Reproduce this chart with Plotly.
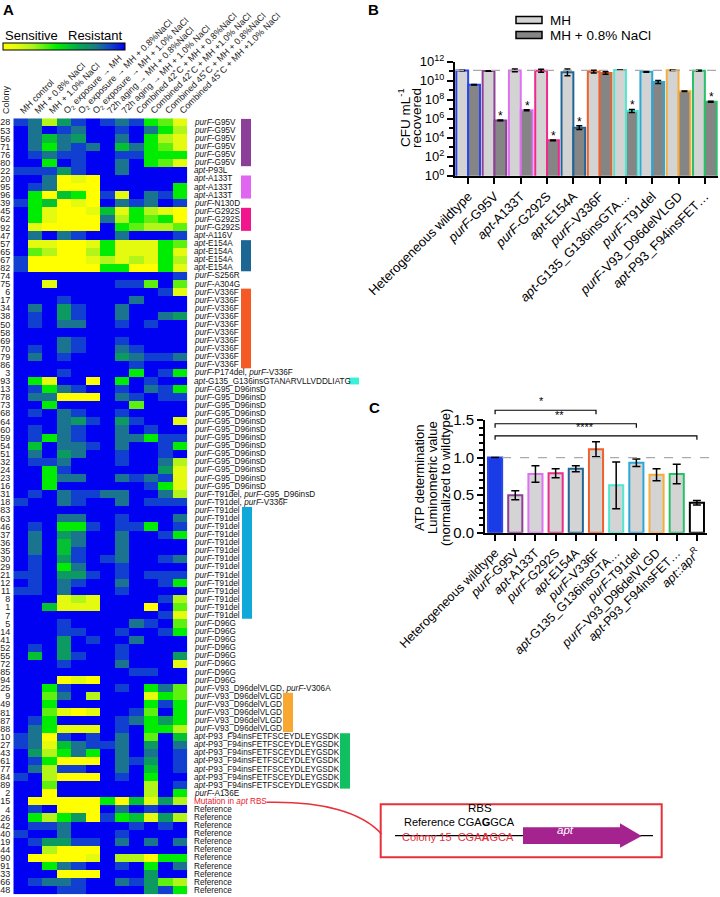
import plotly.graph_objects as go

W, H = 720, 897
def px(x): return x / W
def py(y): return 1 - y / H

FONT = "Liberation Sans, Arial, Helvetica, sans-serif"

# ---------------- Panel A data ----------------
conditions = ["MH control", "MH + 0.8% NaCl", "MH + 1.0% NaCl", "O<sub>2</sub> exposure \u2192 MH",
              "O<sub>2</sub> exposure \u2192 MH + 0.8%NaCl", "O<sub>2</sub> exposure \u2192 MH + 1.0% NaCl",
              "72h aging \u2192 MH + 0.8%NaCl", "72h aging \u2192 MH + 1.0% NaCl",
              "Combined 42\u02daC + MH + 0.8%NaCl", "Combined 42\u02daC + MH +1.0% NaCl",
              "Combined 45\u02daC + MH + 0.8%NaCl", "Combined 45\u02daC + MH +1.0% NaCl"]

colonies = [28, 53, 56, 71, 76, 80, 22, 20, 95, 96, 39, 45, 62, 92, 47, 57, 65, 67, 82, 74, 75,
            6, 17, 34, 38, 50, 58, 69, 70, 79, 86, 3, 93,
            13, 78, 73, 68, 64, 60, 59, 54, 51, 32, 24, 23, 16, 31, 18,
            83, 63, 46, 37, 36, 35, 30, 29, 21, 12, 11, 8, 1, 7,
            5, 14, 41, 52, 55, 72, 85, 94, 25, 9, 49, 81, 87, 88,
            10, 27, 43, 61, 77, 84, 89, 2, 15,
            4, 26, 42, 40, 19, 44, 90, 91, 33, 66, 48]

mutations = (["purF|-G95V"] * 6 + ["apt|-P93L"] + ["apt|-A133T"] * 3 + ["purF|-N130D"] +
             ["purF|-G292S"] * 3 + ["apt|-A116V"] + ["apt|-E154A"] * 4 + ["purF|-S256R", "purF|-A304G"] +
             ["purF|-V336F"] * 10 + ["purF|-P174del, |purF|-V336F", "apt|-G135_G136insGTANARVLLVDDLIATG"] +
             ["purF|-G95_D96insD"] * 13 + ["purF|-T91del, |purF|-G95_D96insD", "purF|-T91del, |purF|-V336F"] +
             ["purF|-T91del"] * 14 + ["purF|-D96G"] * 8 + ["purF|-V93_D96delVLGD, |purF|-V306A"] +
             ["purF|-V93_D96delVLGD"] * 5 + ["apt|-P93_F94insFETFSCEYDLEYGSDK"] * 7 +
             ["purF|-A136E", "RBS", ] + ["|Reference"] * 11)

# 0 = sensitive (yellow) ... 9 = resistant (blue)
heat = [
    [8, 7, 2, 6, 8, 9, 8, 7, 8, 4, 3, 1],
    [9, 7, 9, 8, 7, 9, 9, 8, 9, 7, 4, 2],
    [9, 7, 5, 7, 6, 9, 9, 7, 9, 4, 2, 1],
    [9, 7, 4, 7, 8, 7, 9, 5, 7, 4, 3, 1],
    [9, 8, 7, 8, 8, 9, 9, 8, 8, 4, 4, 4],
    [9, 9, 4, 9, 8, 9, 9, 7, 9, 4, 3, 1],
    [8, 8, 8, 6, 8, 9, 9, 7, 9, 9, 9, 9],
    [9, 9, 7, 0, 1, 0, 9, 9, 9, 9, 9, 9],
    [9, 8, 7, 0, 0, 0, 9, 9, 9, 9, 9, 4],
    [9, 4, 0, 5, 4, 0, 8, 1, 9, 7, 8, 4],
    [8, 4, 5, 0, 1, 0, 9, 7, 8, 7, 9, 8],
    [9, 4, 1, 0, 0, 1, 5, 1, 4, 2, 1, 0],
    [9, 4, 1, 0, 0, 0, 7, 2, 4, 3, 4, 0],
    [9, 1, 0, 0, 0, 0, 9, 4, 3, 2, 2, 3],
    [9, 7, 9, 7, 8, 9, 9, 7, 9, 9, 9, 8],
    [9, 1, 1, 0, 0, 1, 4, 1, 1, 1, 4, 3],
    [9, 3, 2, 0, 0, 2, 4, 1, 1, 1, 4, 1],
    [8, 0, 0, 0, 0, 1, 2, 1, 2, 1, 4, 2],
    [8, 0, 0, 0, 0, 0, 4, 4, 0, 0, 4, 1],
    [9, 9, 9, 9, 9, 9, 9, 9, 9, 9, 9, 8],
    [9, 9, 1, 9, 9, 9, 9, 8, 8, 3, 9, 3],
    [9, 9, 9, 9, 9, 9, 9, 9, 9, 9, 8, 1],
    [9, 9, 9, 8, 9, 9, 9, 9, 7, 9, 9, 9],
    [9, 7, 9, 6, 8, 9, 9, 7, 9, 9, 9, 9],
    [9, 8, 9, 6, 8, 9, 9, 7, 9, 9, 7, 6],
    [9, 8, 9, 7, 7, 9, 9, 8, 9, 8, 9, 9],
    [9, 9, 9, 9, 9, 9, 9, 9, 9, 9, 9, 9],
    [9, 9, 9, 7, 8, 9, 9, 8, 9, 9, 9, 9],
    [9, 8, 9, 7, 8, 9, 9, 7, 8, 9, 9, 9],
    [9, 7, 9, 8, 9, 9, 9, 6, 7, 8, 8, 7],
    [9, 9, 9, 9, 9, 9, 9, 9, 8, 9, 9, 9],
    [9, 9, 9, 8, 9, 9, 9, 9, 4, 9, 8, 4],
    [9, 4, 1, 9, 9, 0, 9, 4, 9, 8, 9, 9],
    [9, 8, 4, 7, 8, 9, 9, 8, 9, 7, 8, 4],
    [9, 7, 7, 0, 0, 0, 9, 7, 8, 9, 8, 8],
    [9, 9, 4, 9, 9, 9, 9, 9, 3, 9, 9, 9],
    [9, 8, 9, 7, 8, 9, 9, 8, 9, 9, 9, 9],
    [9, 9, 9, 7, 6, 8, 9, 6, 8, 9, 9, 1],
    [9, 8, 9, 7, 8, 9, 9, 7, 9, 8, 9, 9],
    [9, 8, 4, 7, 8, 9, 9, 7, 7, 4, 8, 8],
    [9, 5, 9, 7, 7, 8, 9, 7, 9, 9, 8, 4],
    [9, 7, 9, 6, 7, 9, 9, 8, 9, 9, 8, 9],
    [9, 8, 8, 7, 9, 9, 9, 8, 9, 9, 7, 2],
    [9, 9, 4, 8, 9, 9, 9, 9, 9, 9, 6, 1],
    [9, 9, 4, 7, 7, 9, 9, 7, 8, 7, 8, 1],
    [9, 9, 4, 9, 9, 9, 9, 9, 9, 8, 4, 1],
    [9, 8, 9, 7, 8, 8, 7, 7, 9, 9, 7, 2],
    [8, 9, 9, 7, 8, 9, 9, 7, 9, 8, 8, 8],
    [9, 9, 9, 9, 9, 9, 9, 9, 9, 9, 9, 9],
    [9, 9, 9, 7, 7, 9, 9, 8, 9, 9, 9, 7],
    [9, 8, 9, 4, 4, 8, 9, 8, 8, 4, 9, 8],
    [9, 7, 9, 6, 7, 9, 9, 7, 9, 9, 8, 4],
    [9, 7, 9, 5, 7, 9, 9, 7, 9, 9, 9, 9],
    [9, 7, 9, 5, 8, 9, 9, 7, 9, 9, 9, 9],
    [9, 8, 9, 6, 8, 9, 8, 7, 9, 9, 8, 7],
    [9, 8, 9, 4, 7, 9, 9, 8, 9, 9, 9, 9],
    [8, 8, 9, 6, 6, 8, 9, 8, 9, 8, 8, 8],
    [9, 8, 9, 7, 8, 9, 9, 7, 9, 9, 8, 4],
    [8, 8, 9, 7, 9, 9, 9, 8, 9, 9, 9, 9],
    [9, 9, 9, 1, 2, 1, 9, 9, 9, 9, 8, 2],
    [9, 9, 5, 1, 1, 1, 9, 9, 9, 0, 9, 3],
    [9, 9, 9, 9, 9, 9, 9, 9, 9, 9, 8, 1],
    [9, 9, 9, 8, 9, 9, 9, 9, 7, 8, 9, 3],
    [9, 9, 9, 8, 8, 9, 9, 8, 9, 9, 8, 4],
    [9, 9, 9, 6, 9, 8, 9, 9, 7, 9, 9, 9],
    [9, 8, 9, 6, 9, 9, 9, 8, 9, 9, 9, 9],
    [9, 5, 9, 6, 8, 9, 9, 8, 9, 9, 9, 6],
    [9, 9, 9, 8, 9, 9, 9, 7, 9, 9, 9, 1],
    [9, 9, 9, 9, 9, 9, 9, 9, 8, 8, 9, 9],
    [9, 9, 9, 0, 1, 0, 9, 9, 9, 9, 9, 9],
    [9, 9, 4, 8, 9, 9, 9, 8, 9, 4, 7, 3],
    [9, 9, 3, 7, 9, 2, 9, 9, 9, 1, 4, 3],
    [9, 9, 4, 9, 9, 9, 9, 9, 9, 4, 8, 4],
    [9, 9, 3, 1, 0, 1, 9, 9, 8, 3, 9, 4],
    [9, 8, 4, 9, 9, 9, 9, 8, 7, 4, 6, 4],
    [9, 7, 4, 1, 1, 1, 9, 8, 9, 4, 4, 2],
    [8, 7, 0, 8, 9, 8, 9, 7, 9, 3, 9, 5],
    [8, 7, 1, 5, 7, 8, 8, 7, 9, 6, 9, 7],
    [9, 6, 2, 4, 7, 4, 9, 7, 9, 7, 9, 8],
    [9, 8, 4, 0, 0, 0, 9, 7, 8, 6, 9, 8],
    [9, 7, 2, 8, 8, 9, 9, 7, 9, 5, 9, 8],
    [8, 9, 2, 0, 0, 0, 9, 8, 9, 4, 9, 9],
    [9, 9, 3, 9, 9, 9, 9, 9, 9, 2, 9, 8],
    [9, 9, 0, 9, 9, 9, 9, 9, 9, 2, 9, 4],
    [9, 0, 0, 0, 0, 0, 4, 0, 5, 1, 6, 2],
    [9, 8, 9, 0, 0, 0, 9, 7, 9, 8, 9, 9],
    [9, 4, 2, 4, 6, 0, 8, 4, 5, 1, 6, 2],
    [9, 8, 8, 7, 9, 9, 9, 9, 8, 9, 8, 9],
    [8, 9, 9, 7, 9, 9, 9, 8, 9, 9, 9, 9],
    [9, 8, 6, 6, 8, 8, 9, 7, 9, 7, 9, 7],
    [9, 9, 2, 0, 0, 0, 9, 9, 9, 9, 9, 9],
    [9, 0, 0, 0, 0, 1, 9, 2, 2, 0, 4, 4],
    [9, 9, 4, 7, 8, 9, 9, 8, 9, 4, 9, 7],
    [9, 9, 9, 0, 0, 0, 9, 9, 9, 6, 9, 9],
    [9, 8, 7, 7, 8, 9, 9, 7, 8, 6, 3, 2],
    [9, 9, 9, 8, 8, 9, 9, 9, 9, 6, 8, 4],
]

# side group markers: (first row, last row, left px, colour)
groups = [(0, 5, 241, "#8b3f98"), (7, 9, 241, "#e066f2"), (11, 13, 241, "#f2168e"),
          (15, 18, 241, "#1c6694"), (21, 30, 241, "#f55a24"), (32, 32, 349, "#3af0d8"),
          (48, 61, 242, "#10a8d8"), (71, 75, 283, "#f8a830"), (76, 82, 340, "#10c060")]

# ---------------- Panel B data ----------------
strains_b = ["Heterogeneous wildtype", "<i>purF</i>-G95V", "<i>apt</i>-A133T", "<i>purF</i>-G292S",
             "<i>apt</i>-E154A", "<i>purF</i>-V336F", "<i>apt</i>-G135_G136insGTA\u2026",
             "<i>purF</i>-T91del", "<i>purF</i>-V93_D96delVLGD", "<i>apt</i>-P93_F94insFET\u2026"]
log_mh = [11.08, 11.02, 11.08, 11.05, 10.88, 10.95, 11.13, 10.93, 11.1, 11.05]
log_mh_err = [0.03, 0.03, 0.15, 0.15, 0.35, 0.15, 0.03, 0.04, 0.03, 0.04]
log_nacl = [9.58, 5.82, 6.88, 3.72, 5.05, 10.81, 6.81, 9.86, 8.88, 7.79]
log_nacl_err = [0.03, 0.04, 0.05, 0.03, 0.2, 0.12, 0.15, 0.15, 0.03, 0.05]
signif_b = ["", "*", "*", "*", "*", "", "*", "", "", "*"]
strain_colors = ["#2a46e6", "#8e3f98", "#df70f2", "#ee2a8c", "#1f6596", "#f0602c",
                 "#4de8d2", "#2aa8d8", "#f5ad3c", "#28c068"]

# ---------------- Panel C data ----------------
strains_c = strains_b + ["<i>apt</i>::<i>apr</i><sup>R</sup>"]
atp = [1.0, 0.5, 0.78, 0.79, 0.85, 1.11, 0.63, 0.93, 0.77, 0.78, 0.40]
atp_err = [0.0, 0.06, 0.11, 0.06, 0.04, 0.1, 0.31, 0.05, 0.08, 0.13, 0.03]
c_line_colors = strain_colors + ["#000000"]
c_fill = ["#1a3ce6"] + ["#d4d4d4"] * 9 + ["#ffffff"]
brackets_c = [(0, 5, 1.63, "*"), (0, 7, 1.45, "**"), (0, 10, 1.29, "****")]

fig = go.Figure()

# ---------------- Panel A ----------------
HX0, HX1, HY0, HY1 = 13.3, 187.3, 118.3, 894.3
cscale = [[0, "#ffff00"], [0.12, "#e2fa10"], [0.25, "#a8f41c"], [0.44, "#00ee00"],
          [0.62, "#04a850"], [0.76, "#1b7c86"], [0.88, "#1244cc"], [1, "#0000f2"]]
fig.add_trace(go.Heatmap(
    z=heat, x=list(range(12)), y=list(range(len(colonies))), colorscale=cscale, zmin=0, zmax=9,
    xaxis="x", yaxis="y", hoverinfo="skip",
    colorbar=dict(orientation="h", x=px(64), xanchor="center", y=py(43.5), yanchor="top",
                  len=122, lenmode="pixels", thickness=7, xpad=0, ypad=0,
                  outlinewidth=1, outlinecolor="black", showticklabels=False, ticks="")))

# ---------------- Panel B ----------------
def up(v, e): return 10 ** (v + e) - 10 ** v
def dn(v, e): return 10 ** v - 10 ** (v - e)

fig.add_trace(go.Bar(
    x=strains_b, y=[10 ** v for v in log_mh], xaxis="x2", yaxis="y2", name="MH",
    marker=dict(color="#d3d3d3", line=dict(color=strain_colors, width=2)),
    error_y=dict(type="data", array=[up(v, e) for v, e in zip(log_mh, log_mh_err)],
                 arrayminus=[dn(v, e) for v, e in zip(log_mh, log_mh_err)],
                 color="black", thickness=1.5, width=3),
    showlegend=False))
fig.add_trace(go.Bar(
    x=strains_b, y=[10 ** v for v in log_nacl], xaxis="x2", yaxis="y2", name="MH + 0.8% NaCl",
    marker=dict(color="#858585", line=dict(color=strain_colors, width=2)),
    error_y=dict(type="data", array=[up(v, e) for v, e in zip(log_nacl, log_nacl_err)],
                 arrayminus=[dn(v, e) for v, e in zip(log_nacl, log_nacl_err)],
                 color="black", thickness=1.5, width=3),
    showlegend=False))

# ---------------- Panel C ----------------
fig.add_trace(go.Bar(
    x=strains_c, y=atp, xaxis="x3", yaxis="y3",
    marker=dict(color=c_fill, line=dict(color=c_line_colors, width=2)),
    error_y=dict(type="data", array=atp_err, color="black", thickness=1.5, width=4),
    width=0.7, showlegend=False))

BX0, BX1, BY0, BY1 = 455, 718, 61.7, 175.7
CX0, CX1, CY0, CY1 = 485, 707, 420, 532.7

axis_common = dict(showgrid=False, zeroline=False, linecolor="black", linewidth=2, automargin=False,
                   ticks="outside", tickwidth=2, tickcolor="black", ticklen=6, showline=True)

fig.update_layout(
    template="none",
    width=W, height=H, margin=dict(l=0, r=0, t=0, b=0, autoexpand=False),
    paper_bgcolor="white", plot_bgcolor="white",
    font=dict(family=FONT, color="black"),
    bargap=0.1, bargroupgap=0.0,
    xaxis=dict(domain=[px(HX0), px(HX1)], range=[-0.5, 11.5], side="top", tickvals=list(range(12)),
               ticktext=conditions, tickangle=-45, ticks="", showgrid=False, zeroline=False, automargin=False,
               showline=False, tickfont=dict(size=9, color="#222"), anchor="y"),
    yaxis=dict(domain=[py(HY1), py(HY0)], range=[len(colonies) - 0.5, -0.5], tickvals=list(range(len(colonies))),
               ticktext=[str(c) for c in colonies], ticks="", showgrid=False, zeroline=False, automargin=False,
               showline=False, tickfont=dict(size=9, color="#222"), anchor="x", ticklabelstandoff=2),
    xaxis2=dict(domain=[px(BX0), px(BX1)], anchor="y2", tickangle=-45, tickfont=dict(size=13),
                range=[-0.5, 9.5], **axis_common),
    yaxis2=dict(domain=[py(BY1), py(BY0)], anchor="x2", type="log", range=[0, 12],
                tickvals=[10 ** k for k in range(0, 13, 2)],
                ticktext=["10<sup>%d</sup>" % k for k in range(0, 13, 2)], tickfont=dict(size=13),
                minor=dict(tickvals=[10 ** k for k in range(1, 12, 2)], ticks="outside", ticklen=4,
                           tickwidth=2, tickcolor="black", showgrid=False),
                **axis_common),
    xaxis3=dict(domain=[px(CX0), px(CX1)], anchor="y3", tickangle=-45, tickfont=dict(size=12.5),
                range=[-0.5, 10.5], **axis_common),
    yaxis3=dict(domain=[py(CY1), py(CY0)], anchor="x3", range=[0, 1.5], tickvals=[0, 0.5, 1.0, 1.5],
                ticktext=["0.0", "0.5", "1.0", "1.5"], tickfont=dict(size=15),
                minor=dict(dtick=0.1, ticks="outside", ticklen=4, tickwidth=2, tickcolor="black", showgrid=False),
                **axis_common),
)

shapes = []
ann = []

# heatmap annotations
ann.append(dict(text="<b>A</b>", x=px(1), y=py(10), xref="paper", yref="paper", showarrow=False,
                xanchor="left", yanchor="middle", font=dict(size=15, color="black")))
ann.append(dict(text="Sensitive", x=px(3), y=py(36), xref="paper", yref="paper", showarrow=False,
                xanchor="left", yanchor="middle", font=dict(size=13, color="black")))
ann.append(dict(text="Resistant", x=px(125), y=py(36), xref="paper", yref="paper", showarrow=False,
                xanchor="right", yanchor="middle", font=dict(size=13, color="black")))
ann.append(dict(text="Colony", x=px(6), y=py(100), xref="paper", yref="paper", showarrow=False,
                textangle=-90, xanchor="center", yanchor="middle", font=dict(size=9, color="#222")))

def fmt_mut(s):
    if s == "RBS":
        return "Mutation in <i>apt</i> RBS"
    parts = s.split("|")
    out = ""
    for i, p in enumerate(parts):
        out += ("<i>%s</i>" % p) if (i % 2 == 0 and p) else p
    return out

for i, m in enumerate(mutations):
    col = "#e8202a" if m == "RBS" else "#111"
    ann.append(dict(text=fmt_mut(m), x=px(191.5), y=i, xref="paper", yref="y", showarrow=False,
                    xanchor="left", yanchor="middle", font=dict(size=8.2, color=col)))

row_h = (HY1 - HY0) / len(colonies)
for r0, r1, xl, colr in groups:
    shapes.append(dict(type="rect", xref="paper", yref="paper", x0=px(xl), x1=px(xl + 10),
                       y0=py(HY0 + r0 * row_h + 0.6), y1=py(HY0 + (r1 + 1) * row_h - 0.6),
                       fillcolor=colr, line=dict(width=0)))

# Panel B extras
ann.append(dict(text="<b>B</b>", x=px(366), y=py(10), xref="paper", yref="paper", showarrow=False,
                xanchor="left", yanchor="middle", font=dict(size=15, color="black")))
ann.append(dict(text="CFU mL<sup>-1</sup>", x=px(404), y=py(118), xref="paper", yref="paper",
                showarrow=False, textangle=-90, font=dict(size=13.5, color="black"),
                xanchor="center", yanchor="middle"))
ann.append(dict(text="recovered", x=px(417), y=py(118), xref="paper", yref="paper",
                showarrow=False, textangle=-90, font=dict(size=13.5, color="black"),
                xanchor="center", yanchor="middle"))
shapes.append(dict(type="line", xref="x2", yref="y2", x0=-0.5, x1=9.5, y0=10 ** 11.09, y1=10 ** 11.09,
                   line=dict(color="#aaaaaa", width=1.3, dash="dash"), layer="above"))
for i, s in enumerate(signif_b):
    if s:
        ann.append(dict(text=s, x=strains_b[i], y=log_nacl[i] + log_nacl_err[i] + 0.45, xref="x2", yref="y2",
                        xshift=6.5, showarrow=False, font=dict(size=12, color="black")))
# legend
for k, (lab, colr) in enumerate([("MH", "#d3d3d3"), ("MH + 0.8% NaCl", "#858585")]):
    yc = 20 + 15 * k
    shapes.append(dict(type="rect", xref="paper", yref="paper", x0=px(516), x1=px(542),
                       y0=py(yc + 3.5), y1=py(yc - 3.5), fillcolor=colr, line=dict(color="black", width=1.5)))
    ann.append(dict(text=lab, x=px(548), y=py(yc), xref="paper", yref="paper", showarrow=False,
                    xanchor="left", yanchor="middle", font=dict(size=13.5, color="black")))

# Panel C extras
ann.append(dict(text="<b>C</b>", x=px(367), y=py(408), xref="paper", yref="paper", showarrow=False,
                xanchor="left", yanchor="middle", font=dict(size=15, color="black")))
for xl, line in [(419, "ATP determination"), (432, "Luminometric value"), (445, "(normalized to wildtype)")]:
    ann.append(dict(text=line, x=px(xl), y=py(478), xref="paper", yref="paper", showarrow=False,
                    textangle=-90, font=dict(size=13, color="black"), xanchor="center", yanchor="middle"))

def cx(i):  # category index -> pixel
    return CX0 + (i + 0.5) * (CX1 - CX0) / 11.0
def cy(v):
    return CY1 - v / 1.5 * (CY1 - CY0)

shapes.append(dict(type="line", xref="paper", yref="paper", x0=px(cx(0) + 7), x1=px(718),
                   y0=py(cy(1.0)), y1=py(cy(1.0)), line=dict(color="#aaaaaa", width=1.3, dash="dash")))
for a, b, v, lab in brackets_c:
    yb = cy(v)
    shapes.append(dict(type="path", xref="paper", yref="paper",
                       path="M %f %f L %f %f L %f %f L %f %f" % (px(cx(a)), py(yb + 4), px(cx(a)), py(yb),
                                                              px(cx(b)), py(yb), px(cx(b)), py(yb + 4)),
                       line=dict(color="black", width=1.2)))
    ann.append(dict(text=lab, x=px((cx(a) + cx(b)) / 2), y=py(yb - 1), xref="paper", yref="paper",
                    showarrow=False, yanchor="bottom", font=dict(size=11, color="black")))

# Panel D (RBS diagram)
RED = "#e8303a"
shapes.append(dict(type="rect", xref="paper", yref="paper", x0=px(380.7), x1=px(661.7),
                   y0=py(857.3), y1=py(804.3), line=dict(color=RED, width=2)))
shapes.append(dict(type="line", xref="paper", yref="paper", x0=px(395), x1=px(653),
                   y0=py(835.7), y1=py(835.7), line=dict(color="black", width=1.2)))
arrow = [(523, 827.3), (620, 827.3), (620, 823.3), (641.7, 836), (620, 847.7), (620, 844), (523, 844)]
shapes.append(dict(type="path", xref="paper", yref="paper",
                   path="M " + " L ".join("%f %f" % (px(a), py(b)) for a, b in arrow) + " Z",
                   fillcolor="#a5238f", line=dict(width=0)))
ann.append(dict(text="<i>apt</i>", x=px(576), y=py(837.5), xref="paper", yref="paper", showarrow=False,
                font=dict(size=11.5, color="white")))
ann.append(dict(text="RBS", x=px(480), y=py(816), xref="paper", yref="paper", showarrow=False,
                font=dict(size=11.5, color="black")))
ann.append(dict(text="Reference CGA<b>G</b>GCA", x=px(401.5), y=py(829.5), xref="paper", yref="paper",
                showarrow=False, xanchor="left", font=dict(size=11, color="black")))
ann.append(dict(text="Colony 15  CGA<b>A</b>GCA", x=px(400), y=py(844.5), xref="paper", yref="paper",
                showarrow=False, xanchor="left", font=dict(size=11, color=RED)))
curve = [(266.5, 802.3), (322, 801), (362, 812), (381.5, 834)]
shapes.append(dict(type="path", xref="paper", yref="paper",
                   path="M %f %f C %f %f, %f %f, %f %f" % tuple(v for p in curve for v in (px(p[0]), py(p[1]))),
                   line=dict(color=RED, width=1.5)))

fig.update_layout(shapes=shapes, annotations=ann)
fig.write_html("out.html", config={"displayModeBar": False, "staticPlot": True},
               post_script="document.body.style.margin='0';document.body.style.overflow='hidden';")
